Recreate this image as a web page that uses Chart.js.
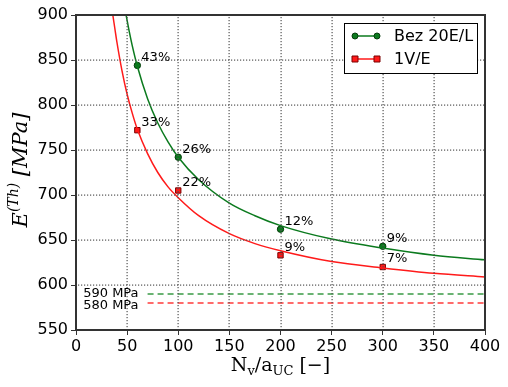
<!DOCTYPE html>
<html>
<head>
<meta charset="utf-8">
<script src="https://cdn.jsdelivr.net/npm/chart.js@4"></script>
<style>
  html, body { margin: 0; padding: 0; background: #fff; }
</style>
</head>
<body>
<canvas id="chart0" width="508" height="387"></canvas>
<script>
// values
var greenCurveX = [49, 52, 55, 60, 70, 80, 90, 100, 120, 150, 175, 200, 250, 300, 350, 400];
var greenCurveY = [900, 882, 866, 843, 807, 780, 759, 742, 717, 691, 677, 666, 651, 641, 633, 628];
var redCurveX = [36, 38, 40, 45, 50, 55, 60, 70, 80, 90, 100, 120, 150, 175, 200, 250, 300, 350, 400];
var redCurveY = [900, 885, 870, 838, 812, 791, 773, 746, 725, 709, 697, 677, 657, 646, 638, 626, 619, 613, 609];

var pointsX = [60, 100, 200, 300];
var greenPoints = [844, 742, 662, 643];
var redPoints = [772, 705, 633, 620];
var greenLabels = ["43%", "26%", "12%", "9%"];
var redLabels = ["33%", "22%", "9%", "7%"];

var limitX = [70, 400];
var greenLimit = 590;
var redLimit = 580;
var greenLimitText = "590 MPa";
var redLimitText = "580 MPa";

var seriesNames = ["Bez 20E/L", "1V/E"];

var GREEN = "#0b7a1e";
var RED = "#ff1a1a";

function xy(xs, ys) {
    var out = [];
    for (var i = 0; i < xs.length; i++) {
        out.push({x: xs[i], y: ys[i]});
    }
    return out;
}

// rich text: list of [text, font, dy]
function drawRich(ctx, parts, x, y) {
    var total = 0;
    for (var i = 0; i < parts.length; i++) {
        ctx.font = parts[i][1];
        total += ctx.measureText(parts[i][0]).width;
    }
    var cx = x - total / 2;
    ctx.textAlign = "left";
    ctx.textBaseline = "alphabetic";
    for (var j = 0; j < parts.length; j++) {
        ctx.font = parts[j][1];
        ctx.fillText(parts[j][0], cx, y + parts[j][2]);
        cx += ctx.measureText(parts[j][0]).width;
    }
}

// dotted grid made of small dots
function drawDots(ctx, a, sx, sy) {
    ctx.fillStyle = "#555";
    for (var v = 50; v < 400; v += 50) {
        var px = Math.round(sx.getPixelForValue(v));
        for (var yy = Math.round(a.top) + 2; yy < a.bottom; yy += 3) {
            ctx.fillRect(px - 0.5, yy, 1.2, 1.2);
        }
    }
    for (var w = 600; w < 900; w += 50) {
        var py = Math.round(sy.getPixelForValue(w));
        for (var xx = Math.round(a.left) + 2; xx < a.right; xx += 3) {
            ctx.fillRect(xx, py - 0.5, 1.2, 1.2);
        }
    }
}

var extras = {
    id: "extras",
    afterDraw: function (chart) {
        var ctx = chart.ctx;
        var area = chart.chartArea;
        var xs = chart.scales.x;
        var ys = chart.scales.y;
        ctx.save();

        drawDots(ctx, area, xs, ys);

        // frame
        ctx.strokeStyle = "#333";
        ctx.lineWidth = 2;
        ctx.strokeRect(area.left, area.top, area.right - area.left, area.bottom - area.top);

        // point labels
        ctx.fillStyle = "#000";
        ctx.font = "13px 'DejaVu Sans'";
        ctx.textAlign = "left";
        ctx.textBaseline = "middle";
        var gm = chart.getDatasetMeta(2);
        var rm = chart.getDatasetMeta(3);
        for (var i = 0; i < pointsX.length; i++) {
            ctx.fillText(greenLabels[i], gm.data[i].x + 4, gm.data[i].y - 8);
            ctx.fillText(redLabels[i], rm.data[i].x + 4, rm.data[i].y - 8);
        }

        // limit labels
        ctx.textAlign = "right";
        ctx.fillText(greenLimitText, xs.getPixelForValue(limitX[0]) - 9, ys.getPixelForValue(greenLimit));
        ctx.fillText(redLimitText, xs.getPixelForValue(limitX[0]) - 9, ys.getPixelForValue(redLimit) + 3);

        // legend
        var lx = 344, ly = 23, lw = 133, lh = 50;
        ctx.fillStyle = "#fff";
        ctx.fillRect(lx, ly, lw, lh);
        ctx.strokeStyle = "#000";
        ctx.lineWidth = 1;
        ctx.strokeRect(lx + 0.5, ly + 0.5, lw, lh);
        var rows = [
            {name: seriesNames[0], color: GREEN, edge: "#063d0c", shape: "circle", y: ly + 13},
            {name: seriesNames[1], color: RED, edge: "#7a0000", shape: "rect", y: ly + 36}
        ];
        rows.forEach(function (r) {
            ctx.strokeStyle = r.color;
            ctx.lineWidth = 1.5;
            ctx.beginPath();
            ctx.moveTo(lx + 11, r.y);
            ctx.lineTo(lx + 33, r.y);
            ctx.stroke();
            [lx + 11, lx + 33].forEach(function (px) {
                ctx.fillStyle = r.color;
                ctx.strokeStyle = r.edge;
                ctx.lineWidth = 1;
                ctx.beginPath();
                if (r.shape === "circle") {
                    ctx.arc(px, r.y, 3, 0, Math.PI * 2);
                } else {
                    ctx.rect(px - 3, r.y - 3, 6, 6);
                }
                ctx.fill();
                ctx.stroke();
            });
            ctx.fillStyle = "#000";
            ctx.font = "16px 'DejaVu Sans'";
            ctx.textAlign = "left";
            ctx.textBaseline = "middle";
            ctx.fillText(r.name, lx + 50, r.y + 1);
        });

        // x title
        ctx.fillStyle = "#000";
        var cxm = (area.left + area.right) / 2;
        drawRich(ctx, [
            ["N", "19px 'DejaVu Serif'", 0],
            ["v", "13px 'DejaVu Serif'", 4],
            ["/a", "19px 'DejaVu Serif'", 0],
            ["UC", "13px 'DejaVu Serif'", 4],
            [" [\u2212]", "19px 'DejaVu Serif'", 0]
        ], cxm, 371);

        // y title
        ctx.translate(27, 170);
        ctx.rotate(-Math.PI / 2);
        drawRich(ctx, [
            ["E", "italic 21px 'DejaVu Serif'", 0],
            ["(Th)", "italic 14px 'DejaVu Serif'", -9],
            [" [MPa]", "italic 21px 'DejaVu Serif'", 0]
        ], 0, 0);

        ctx.restore();
    }
};

var ctx0 = document.getElementById("chart0");
var myChart = new Chart(ctx0, {
    type: "scatter",
    data: {
        datasets: [
            {data: xy(greenCurveX, greenCurveY), showLine: true, borderColor: GREEN, borderWidth: 1.5,
             pointRadius: 0, cubicInterpolationMode: "monotone"},
            {data: xy(redCurveX, redCurveY), showLine: true, borderColor: RED, borderWidth: 1.5,
             pointRadius: 0, cubicInterpolationMode: "monotone"},
            {data: xy(pointsX, greenPoints), showLine: false, pointStyle: "circle", pointRadius: 3.2,
             backgroundColor: GREEN, borderColor: "#063d0c", borderWidth: 1},
            {data: xy(pointsX, redPoints), showLine: false, pointStyle: "rect", pointRadius: 3.8,
             backgroundColor: RED, borderColor: "#7a0000", borderWidth: 1},
            {data: xy(limitX, [greenLimit, greenLimit]), showLine: true, borderColor: "#3a9a45",
             borderWidth: 1.5, borderDash: [6, 4], pointRadius: 0},
            {data: xy(limitX, [redLimit, redLimit]), showLine: true, borderColor: "#ff3b3b",
             borderWidth: 1.5, borderDash: [6, 4], pointRadius: 0}
        ]
    },
    options: {
        responsive: false,
        animation: false,
        layout: {padding: {left: 0, right: 23, top: 15, bottom: 0}},
        plugins: {legend: {display: false}, tooltip: {enabled: false}},
        scales: {
            x: {
                type: "linear", min: 0, max: 400,
                ticks: {stepSize: 50, color: "#000", font: {family: "DejaVu Sans", size: 16}, padding: 2, maxRotation: 0},
                grid: {drawOnChartArea: false, tickLength: 5, tickColor: "#333", tickWidth: 1},
                border: {display: false},
                afterFit: function (s) { s.height = 57; }
            },
            y: {
                min: 550, max: 900,
                ticks: {stepSize: 50, color: "#000", font: {family: "DejaVu Sans", size: 16}, padding: 3},
                grid: {drawOnChartArea: false, tickLength: 5, tickColor: "#333", tickWidth: 1},
                border: {display: false},
                afterFit: function (s) { s.width = 76; }
            }
        }
    },
    plugins: [extras]
});
</script>
</body>
</html>
